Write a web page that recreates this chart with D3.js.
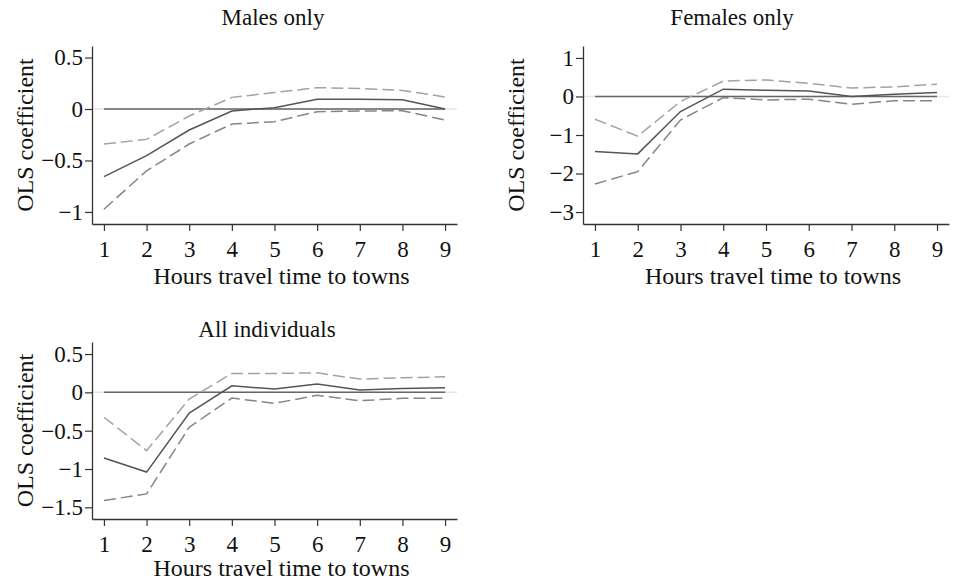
<!DOCTYPE html>
<html>
<head>
<meta charset="utf-8">
<script src="https://cdn.jsdelivr.net/npm/d3@7"></script>
<style>
  body { margin: 0; background: #fff; }
  text { font-family: "Liberation Serif", "Times New Roman", serif; fill: #111; }
</style>
</head>
<body>
<div id="canvas"></div>
<script>
var hours = [1, 2, 3, 4, 5, 6, 7, 8, 9];

// Males only
var malesCoef  = [-0.657, -0.453, -0.204, -0.019, 0.013, 0.094, 0.094, 0.090, 0.000];
var malesUpper = [-0.340, -0.295, -0.068, 0.113, 0.160, 0.207, 0.200, 0.180, 0.117];
var malesLower = [-0.974, -0.600, -0.340, -0.146, -0.123, -0.026, -0.020, -0.016, -0.107];
var malesTicks = [0.5, 0, -0.5, -1];

// Females only
var femalesCoef  = [-1.43, -1.49, -0.39, 0.19, 0.16, 0.14, 0.00, 0.06, 0.10];
var femalesUpper = [-0.59, -1.03, -0.13, 0.40, 0.43, 0.34, 0.22, 0.25, 0.32];
var femalesLower = [-2.27, -1.95, -0.61, -0.03, -0.09, -0.07, -0.20, -0.11, -0.11];
var femalesTicks = [1, 0, -1, -2, -3];

// All individuals
var allCoef  = [-0.857, -1.040, -0.270, 0.086, 0.043, 0.110, 0.030, 0.052, 0.060];
var allUpper = [-0.325, -0.760, -0.087, 0.247, 0.247, 0.255, 0.173, 0.190, 0.203];
var allLower = [-1.410, -1.325, -0.455, -0.074, -0.143, -0.039, -0.109, -0.078, -0.078];
var allTicks = [0.5, 0, -0.5, -1, -1.5];

var svg = d3.select('#canvas').append('svg')
    .attr('width', 957)
    .attr('height', 582);

function fmt(d) {
    return d < 0 ? '\u2212' + Math.abs(d) : String(d);
}

function drawPanel(p) {
    var g = svg.append('g');

    var x = d3.scaleLinear()
        .domain([0.72, 9.28])
        .range([p.left, p.right]);
    var y = d3.scaleLinear()
        .domain(p.ydom)
        .range([p.bottom, p.top]);

    // faint reference line across the plot region
    g.append('line')
        .attr('x1', p.left).attr('x2', p.right)
        .attr('y1', y(0)).attr('y2', y(0))
        .attr('stroke', '#e6e6e6')
        .attr('stroke-width', 1.5);

    var line = d3.line()
        .x(function(d, i) { return x(hours[i]); })
        .y(function(d) { return y(d); });

    // zero line
    g.append('path')
        .datum(hours.map(function() { return 0; }))
        .attr('d', line)
        .attr('fill', 'none')
        .attr('stroke', '#666')
        .attr('stroke-width', 1.5);

    g.append('path')
        .datum(p.upper)
        .attr('d', line)
        .attr('fill', 'none')
        .attr('stroke', '#a2a2a2')
        .attr('stroke-width', 1.5)
        .attr('stroke-dasharray', '12,5');

    g.append('path')
        .datum(p.lower)
        .attr('d', line)
        .attr('fill', 'none')
        .attr('stroke', '#858585')
        .attr('stroke-width', 1.5)
        .attr('stroke-dasharray', '12,5');

    g.append('path')
        .datum(p.coef)
        .attr('d', line)
        .attr('fill', 'none')
        .attr('stroke', '#555')
        .attr('stroke-width', 1.5);

    var xAxis = g.append('g')
        .attr('transform', 'translate(0,' + p.bottom + ')')
        .call(d3.axisBottom(x).tickValues(hours).tickSize(7).tickPadding(10).tickSizeOuter(0));
    var yAxis = g.append('g')
        .attr('transform', 'translate(' + p.left + ',0)')
        .call(d3.axisLeft(y).tickValues(p.ticks).tickFormat(fmt).tickSize(7).tickPadding(2).tickSizeOuter(0));

    [xAxis, yAxis].forEach(function(a) {
        a.select('.domain').attr('stroke', '#333').attr('stroke-width', 1.3);
        a.selectAll('.tick line').attr('stroke', '#333').attr('stroke-width', 1.2);
        a.selectAll('.tick text')
            .attr('font-family', 'Liberation Serif')
            .attr('font-size', 23)
            .attr('fill', '#111');
    });

    g.append('text')
        .attr('x', (p.left + p.right) / 2 + 7)
        .attr('y', p.bottom + p.xTitleGap)
        .attr('text-anchor', 'middle')
        .attr('dominant-baseline', 'central')
        .attr('font-size', 24)
        .text('Hours travel time to towns');

    g.append('text')
        .attr('transform', 'translate(' + (p.left - 67) + ',' + ((p.top + p.bottom) / 2) + ') rotate(-90)')
        .attr('text-anchor', 'middle')
        .attr('dominant-baseline', 'central')
        .attr('font-size', 24)
        .text('OLS coefficient');

    g.append('text')
        .attr('x', p.titleX)
        .attr('y', p.titleY)
        .attr('text-anchor', 'middle')
        .attr('dominant-baseline', 'central')
        .attr('font-size', 23)
        .text(p.title);
}

drawPanel({
    title: 'Males only', titleX: 273, titleY: 17,
    left: 92, right: 457, top: 46, bottom: 224, xTitleGap: 52,
    ydom: [-1.117, 0.612],
    coef: malesCoef, upper: malesUpper, lower: malesLower, ticks: malesTicks
});

drawPanel({
    title: 'Females only', titleX: 732, titleY: 17,
    left: 583, right: 949, top: 46, bottom: 224, xTitleGap: 52,
    ydom: [-3.31, 1.31],
    coef: femalesCoef, upper: femalesUpper, lower: femalesLower, ticks: femalesTicks
});

drawPanel({
    title: 'All individuals', titleX: 267, titleY: 329,
    left: 92, right: 457, top: 342, bottom: 519, xTitleGap: 49,
    ydom: [-1.652, 0.657],
    coef: allCoef, upper: allUpper, lower: allLower, ticks: allTicks
});
</script>
</body>
</html>
